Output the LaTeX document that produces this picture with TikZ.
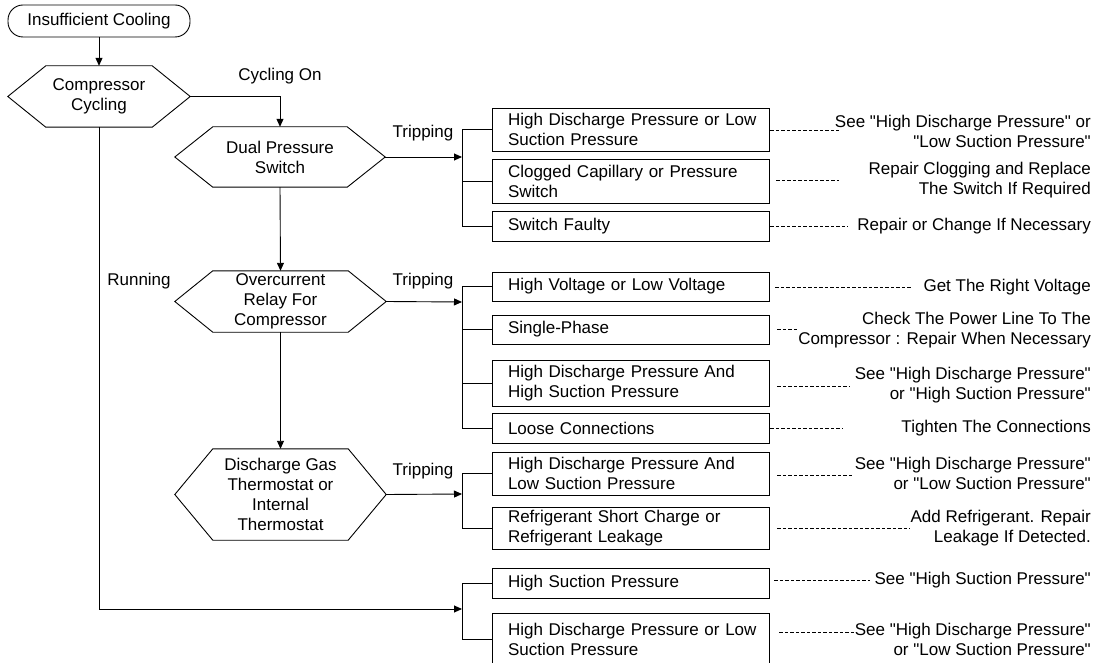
\documentclass[tikz,border=0pt]{standalone}
\usepackage{fontspec}
\setmainfont{Liberation Sans}[Ligatures=TeXOff]
\usetikzlibrary{arrows.meta}
\newcommand\drawhex[1]{\draw[line] (#1.west) -- ([xshift=38pt]#1.north west) -- ([xshift=-38pt]#1.north east) -- (#1.east) -- ([xshift=-38pt]#1.south east) -- ([xshift=38pt]#1.south west) -- cycle;}
\begin{document}
\begin{tikzpicture}[x=1pt,y=-1pt,
  every node/.style={font=\fontsize{17pt}{20pt}\selectfont},
  line/.style={line width=0.9pt},
  arr/.style={line,-{Triangle[length=8pt,width=7pt]}},
  hex/.style={draw=none,align=center,inner sep=0pt},
  box/.style={draw,line,text width=245pt,align=left,inner xsep=16pt,inner ysep=0pt,minimum height=#1},
  rem/.style={anchor=east,align=right,inner sep=0pt},
  lbl/.style={inner sep=0pt},
  dsh/.style={line width=0.8pt,dash pattern=on 3.5pt off 2pt}]
\useasboundingbox (0,0) rectangle (1097,663);

% start
\node[draw,line,rounded corners=15pt,minimum width=182pt,minimum height=32pt,inner sep=0pt] (start) at (99,21) {Insufficient Cooling};

% decisions
\node[hex,minimum width=182pt,minimum height=61pt] (cc) at (99,96.5) {Compressor\\Cycling};
\node[hex,minimum width=210pt,minimum height=60pt] (dps) at (280,157) {Dual Pressure\\Switch};
\node[hex,minimum width=211pt,minimum height=61pt] (oc) at (280.5,301.5) {Overcurrent\\Relay For\\Compressor};
\node[hex,minimum width=211pt,minimum height=91pt] (dg) at (280.5,494.5) {Discharge Gas\\Thermostat or\\Internal\\Thermostat};
\drawhex{cc}
\drawhex{dps}
\drawhex{oc}
\drawhex{dg}

% labels
\node[lbl] (lco) at (280,76) {Cycling On};
\node[lbl] (lrun) at (139,281) {Running};
\node[lbl] (lt1) at (423,133) {Tripping};
\node[lbl] (lt2) at (423,281) {Tripping};
\node[lbl] (lt3) at (423,471) {Tripping};

% junctions
\coordinate (j1) at (462,157);
\coordinate (j2) at (462,302);
\coordinate (j3) at (462,494);
\coordinate (j4) at (462,609);

% boxes
\node[box=43pt] (b11) at (630.5,129.5) {\mbox{High Discharge Pressure or Low}\\Suction Pressure};
\node[box=44pt] (b12) at (630.5,181) {\mbox{Clogged Capillary or Pressure}\\Switch};
\node[box=30pt] (b13) at (630.5,226) {Switch Faulty};
\node[box=29pt] (b21) at (630.5,286.5) {High Voltage or Low Voltage};
\node[box=29pt] (b22) at (630.5,329.5) {Single-Phase};
\node[box=46pt] (b23) at (630.5,383) {\mbox{High Discharge Pressure And}\\High Suction Pressure};
\node[box=30pt] (b24) at (630.5,428) {Loose Connections};
\node[box=43pt] (b31) at (630.5,473.5) {\mbox{High Discharge Pressure And}\\Low Suction Pressure};
\node[box=42pt] (b32) at (630.5,528) {\mbox{Refrigerant Short Charge or}\\Refrigerant Leakage};
\node[box=30pt] (b41) at (630.5,583) {High Suction Pressure};
\node[box=52pt] (b42) at (630.5,639) {\mbox{High Discharge Pressure or Low}\\Suction Pressure};

% remedies
\node[rem] (r11) at (1091,131) {See "High Discharge Pressure" or\\"Low Suction Pressure"};
\node[rem] (r12) at (1091,180) {Repair Clogging and Replace\\The Switch If Required};
\node[rem] (r13) at (1091,226) {Repair or Change If Necessary};
\node[rem] (r21) at (1091,287) {Get The Right Voltage};
\node[rem] (r22) at (1091,330) {Check The Power Line To The\\Compressor : Repair When Necessary};
\node[rem] (r23) at (1091,385) {See "High Discharge Pressure"\\or "High Suction Pressure"};
\node[rem] (r24) at (1091,428) {Tighten The Connections};
\node[rem] (r31) at (1091,473) {See "High Discharge Pressure"\\or "Low Suction Pressure"};
\node[rem] (r32) at (1091,528) {Add Refrigerant. Repair\\Leakage If Detected.};
\node[rem] (r41) at (1091,580) {See "High Suction Pressure"};
\node[rem] (r42) at (1091,639) {See "High Discharge Pressure"\\or "Low Suction Pressure"};

% main flow
\draw[arr] (start) -- (cc);
\draw[arr] (cc.east) -| (dps.north);
\draw[arr] (dps.south) -- (oc.north);
\draw[arr] (oc.south) -- (dg.north);
\draw[arr] (cc.south) |- (j4);
\draw[arr] (dps.east) -- (j1);
\draw[arr] (oc.east) -- (j2);
\draw[arr] (dg.east) -- (j3);

% brackets
\foreach \j/\b in {j1/b11,j1/b12,j1/b13,j2/b21,j2/b22,j2/b23,j2/b24,j3/b31,j3/b32,j4/b41,j4/b42}
  \draw[line] (\j) |- (\b.west);

% dashed leaders
\coordinate (d11) at (839,130);
\coordinate (d12) at (839,180);
\coordinate (d13) at (848,226);
\coordinate (d21) at (912,287);
\coordinate (d22) at (797,329);
\coordinate (d23) at (849,386);
\coordinate (d24) at (842,428);
\coordinate (d31) at (854,475);
\coordinate (d32) at (910,528);
\coordinate (d41) at (870,580);
\coordinate (d42) at (854,632);
\draw[dsh] ([xshift=1pt]b11.east |- d11) -- (d11);
\draw[dsh] ([xshift=7pt]b12.east |- d12) -- (d12);
\draw[dsh] ([xshift=1pt]b13.east |- d13) -- (d13);
\draw[dsh] ([xshift=6pt]b21.east |- d21) -- (d21);
\draw[dsh] ([xshift=8pt]b22.east |- d22) -- (d22);
\draw[dsh] ([xshift=8pt]b23.east |- d23) -- (d23);
\draw[dsh] ([xshift=1pt]b24.east |- d24) -- (d24);
\draw[dsh] ([xshift=8pt]b31.east |- d31) -- (d31);
\draw[dsh] ([xshift=8pt]b32.east |- d32) -- (d32);
\draw[dsh] ([xshift=5pt]b41.east |- d41) -- (d41);
\draw[dsh] ([xshift=10pt]b42.east |- d42) -- (d42);
\end{tikzpicture}
\end{document}
